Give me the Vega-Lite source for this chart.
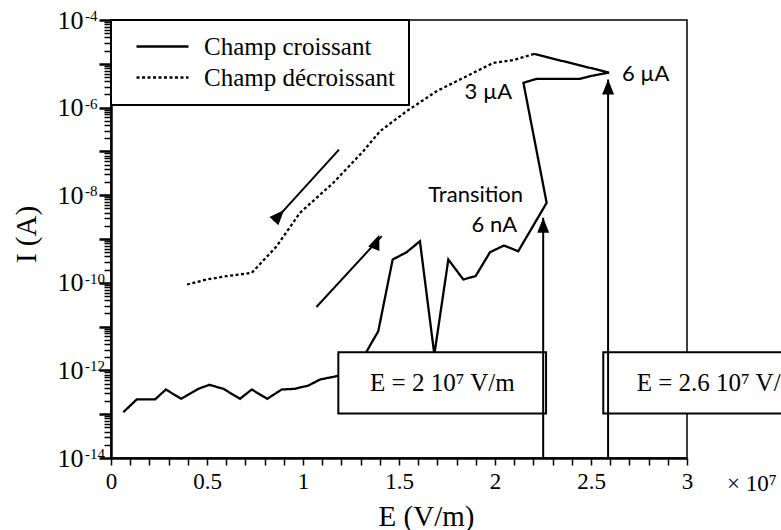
{
  "$schema": "https://vega.github.io/schema/vega-lite/v6.json",
  "width": 576,
  "height": 438,
  "autosize": "none",
  "padding": {"left": 111, "top": 20, "right": 94, "bottom": 72},
  "background": "white",
  "config": {"view": {"stroke": "black", "strokeWidth": 1.5}, "font": "Liberation Serif", "legend": {"strokeWidth": 2}},
  "datasets": {
    "curves": [
      {"i": 1, "serie": "Champ croissant", "E": 0.064, "I": 1.11e-13},
      {"i": 2, "serie": "Champ croissant", "E": 0.134, "I": 2.17e-13},
      {"i": 3, "serie": "Champ croissant", "E": 0.229, "I": 2.17e-13},
      {"i": 4, "serie": "Champ croissant", "E": 0.286, "I": 3.66e-13},
      {"i": 5, "serie": "Champ croissant", "E": 0.365, "I": 2.25e-13},
      {"i": 6, "serie": "Champ croissant", "E": 0.455, "I": 3.8e-13},
      {"i": 7, "serie": "Champ croissant", "E": 0.512, "I": 4.69e-13},
      {"i": 8, "serie": "Champ croissant", "E": 0.585, "I": 3.8e-13},
      {"i": 9, "serie": "Champ croissant", "E": 0.672, "I": 2.25e-13},
      {"i": 10, "serie": "Champ croissant", "E": 0.733, "I": 3.66e-13},
      {"i": 11, "serie": "Champ croissant", "E": 0.814, "I": 2.25e-13},
      {"i": 12, "serie": "Champ croissant", "E": 0.889, "I": 3.66e-13},
      {"i": 13, "serie": "Champ croissant", "E": 0.958, "I": 3.8e-13},
      {"i": 14, "serie": "Champ croissant", "E": 1.028, "I": 4.52e-13},
      {"i": 15, "serie": "Champ croissant", "E": 1.089, "I": 6.2e-13},
      {"i": 16, "serie": "Champ croissant", "E": 1.175, "I": 7.38e-13},
      {"i": 17, "serie": "Champ croissant", "E": 1.271, "I": 9.4e-13},
      {"i": 18, "serie": "Champ croissant", "E": 1.392, "I": 7.85e-12},
      {"i": 19, "serie": "Champ croissant", "E": 1.467, "I": 3.4e-10},
      {"i": 20, "serie": "Champ croissant", "E": 1.54, "I": 5.0e-10},
      {"i": 21, "serie": "Champ croissant", "E": 1.609, "I": 8.9e-10},
      {"i": 22, "serie": "Champ croissant", "E": 1.684, "I": 2.3e-12},
      {"i": 23, "serie": "Champ croissant", "E": 1.757, "I": 3.4e-10},
      {"i": 24, "serie": "Champ croissant", "E": 1.835, "I": 1.19e-10},
      {"i": 25, "serie": "Champ croissant", "E": 1.899, "I": 1.42e-10},
      {"i": 26, "serie": "Champ croissant", "E": 1.974, "I": 5.0e-10},
      {"i": 27, "serie": "Champ croissant", "E": 2.047, "I": 7.1e-10},
      {"i": 28, "serie": "Champ croissant", "E": 2.121, "I": 5.26e-10},
      {"i": 29, "serie": "Champ croissant", "E": 2.269, "I": 6.7e-9},
      {"i": 30, "serie": "Champ croissant", "E": 2.148, "I": 3.68e-6},
      {"i": 31, "serie": "Champ croissant", "E": 2.217, "I": 4.55e-6},
      {"i": 32, "serie": "Champ croissant", "E": 2.443, "I": 4.55e-6},
      {"i": 33, "serie": "Champ croissant", "E": 2.512, "I": 5.4e-6},
      {"i": 34, "serie": "Champ croissant", "E": 2.594, "I": 6.3e-6},
      {"i": 35, "serie": "Champ croissant", "E": 2.203, "I": 1.68e-5},
      {"i": 36, "serie": "Champ décroissant", "E": 2.203, "I": 1.68e-5},
      {"i": 37, "serie": "Champ décroissant", "E": 2.095, "I": 1.21e-5},
      {"i": 38, "serie": "Champ décroissant", "E": 1.991, "I": 1.05e-5},
      {"i": 39, "serie": "Champ décroissant", "E": 1.87, "I": 5.7e-6},
      {"i": 40, "serie": "Champ décroissant", "E": 1.696, "I": 2.37e-6},
      {"i": 41, "serie": "Champ décroissant", "E": 1.54, "I": 8.3e-7},
      {"i": 42, "serie": "Champ décroissant", "E": 1.401, "I": 2.89e-7},
      {"i": 43, "serie": "Champ décroissant", "E": 1.314, "I": 1.01e-7},
      {"i": 44, "serie": "Champ décroissant", "E": 1.158, "I": 1.92e-8},
      {"i": 45, "serie": "Champ décroissant", "E": 0.984, "I": 3.96e-9},
      {"i": 46, "serie": "Champ décroissant", "E": 0.863, "I": 6.85e-10},
      {"i": 47, "serie": "Champ décroissant", "E": 0.733, "I": 1.69e-10},
      {"i": 48, "serie": "Champ décroissant", "E": 0.603, "I": 1.42e-10},
      {"i": 49, "serie": "Champ décroissant", "E": 0.498, "I": 1.19e-10},
      {"i": 50, "serie": "Champ décroissant", "E": 0.394, "I": 9.1e-11}
    ],
    "boxes": [
      {"x0": 1.184, "x1": 2.266, "y0": 2.6e-12, "y1": 1.04e-13, "tx": 1.349, "ty": 3.35e-13, "label": "E = 2 10⁷ V/m"},
      {"x0": 2.564, "x1": 3.65, "y0": 2.6e-12, "y1": 1.04e-13, "tx": 2.738, "ty": 3.35e-13, "label": "E = 2.6 10⁷ V/m"}
    ],
    "arrows": [
      {"x": 1.07, "y": 2.8e-11, "x2": 1.41, "y2": 1.16e-9, "hx": 1.383, "hy": 8.67e-10, "dir": "ne"},
      {"x": 1.1875, "y": 1.1e-7, "x2": 0.849, "y2": 2.55e-9, "hx": 0.875, "hy": 3.42e-9, "dir": "sw"},
      {"x": 2.251, "y": 1e-14, "x2": 2.251, "y2": 3.05e-9, "hx": 2.251, "hy": 2.06e-9, "dir": "up"},
      {"x": 2.589, "y": 1e-14, "x2": 2.589, "y2": 4.38e-6, "hx": 2.589, "hy": 2.95e-6, "dir": "up"}
    ],
    "notesRight": [
      {"x": 2.146, "y": 7.0e-9, "t": "Transition"},
      {"x": 2.115, "y": 1.41e-9, "t": "6 nA"},
      {"x": 2.089, "y": 1.59e-6, "t": "3 µA"}
    ],
    "notesLeft": [
      {"x": 2.661, "y": 4.0e-6, "t": "6 µA"}
    ],
    "exps": [
      {"v": 1e-4, "e": "-4"},
      {"v": 1e-6, "e": "-6"},
      {"v": 1e-8, "e": "-8"},
      {"v": 1e-10, "e": "-10"},
      {"v": 1e-12, "e": "-12"},
      {"v": 1e-14, "e": "-14"}
    ],
    "mult": [
      {"x": 3.208, "y": 1.72e-15, "t": "× 10⁷"}
    ]
  },
  "layer": [
    {
      "data": {"name": "curves"},
      "mark": {"type": "line", "strokeWidth": 2.3, "color": "black"},
      "encoding": {
        "x": {
          "field": "E", "type": "quantitative",
          "scale": {"domain": [0, 3], "nice": false, "zero": false},
          "axis": {
            "values": [0,0.1,0.2,0.3,0.4,0.5,0.6,0.7,0.8,0.9,1,1.1,1.2,1.3,1.4,1.5,1.6,1.7,1.8,1.9,2,2.1,2.2,2.3,2.4,2.5,2.6,2.7,2.8,2.9,3],
            "tickCount": 1000,
            "format": "~g",
            "labelExpr": "abs(datum.value*2 - round(datum.value*2)) < 0.001 ? datum.label : ''",
            "labelFont": "Liberation Serif", "labelFontSize": 23, "labelColor": "black",
            "labelPadding": 5, "labelOverlap": false, "labelFlush": false,
            "tickSize": 7, "tickWidth": 1.5, "tickColor": "black",
            "domainWidth": 2.5, "domainColor": "black", "grid": false,
            "title": "E (V/m)", "titleFont": "Liberation Serif", "titleFontSize": 29, "titleFontWeight": "normal",
            "titleColor": "black", "titleX": 315, "titleY": 67, "titleBaseline": "alphabetic", "titleAlign": "center"
          }
        },
        "y": {
          "field": "I", "type": "quantitative",
          "scale": {"type": "log", "domain": [1e-14, 1e-4], "nice": false},
          "axis": {
            "values": [1e-14,2e-14,3e-14,4e-14,5e-14,6e-14,7e-14,8e-14,9e-14,
                       1e-13,2e-13,3e-13,4e-13,5e-13,6e-13,7e-13,8e-13,9e-13,
                       1e-12,2e-12,3e-12,4e-12,5e-12,6e-12,7e-12,8e-12,9e-12,
                       1e-11,2e-11,3e-11,4e-11,5e-11,6e-11,7e-11,8e-11,9e-11,
                       1e-10,2e-10,3e-10,4e-10,5e-10,6e-10,7e-10,8e-10,9e-10,
                       1e-9,2e-9,3e-9,4e-9,5e-9,6e-9,7e-9,8e-9,9e-9,
                       1e-8,2e-8,3e-8,4e-8,5e-8,6e-8,7e-8,8e-8,9e-8,
                       1e-7,2e-7,3e-7,4e-7,5e-7,6e-7,7e-7,8e-7,9e-7,
                       1e-6,2e-6,3e-6,4e-6,5e-6,6e-6,7e-6,8e-6,9e-6,
                       1e-5,2e-5,3e-5,4e-5,5e-5,6e-5,7e-5,8e-5,9e-5,1e-4],
            "tickCount": 1000,
            "labelExpr": "abs(log(datum.value)/LN10 - round(log(datum.value)/LN10)) < 0.001 && round(log(datum.value)/LN10) % 2 == 0 ? '10' : ''",
            "labelFont": "Liberation Serif", "labelFontSize": 26, "labelColor": "black",
            "labelPadding": 16, "labelOverlap": false, "labelFlush": false, "labelBound": false,
            "tickSize": {"condition": {"test": "abs(log(datum.value)/LN10 - round(log(datum.value)/LN10)) < 0.001", "value": 12}, "value": 7},
            "tickWidth": {"condition": {"test": "abs(log(datum.value)/LN10 - round(log(datum.value)/LN10)) < 0.001", "value": 2.5}, "value": 1.5},
            "tickColor": "black",
            "domainWidth": 2.5, "domainColor": "black", "grid": false,
            "title": "I (A)", "titleFont": "Liberation Serif", "titleFontSize": 29, "titleFontWeight": "normal",
            "titleColor": "black", "titleAngle": -90, "titleX": -76, "titleY": 214, "titleBaseline": "alphabetic", "titleAlign": "center"
          }
        },
        "order": {"field": "i", "type": "quantitative"},
        "strokeDash": {
          "field": "serie", "type": "nominal",
          "scale": {"domain": ["Champ croissant", "Champ décroissant"], "range": [[1, 0], [3, 2.5]]},
          "legend": {
            "orient": "none", "legendX": 0, "legendY": 0, "title": null,
            "symbolType": "M-2.6,0H2.6", "symbolSize": 400, "symbolOffset": 25,
            "symbolStrokeWidth": 2.3, "symbolStrokeColor": "black",
            "labelFont": "Liberation Serif", "labelFontSize": 25, "labelColor": "black", "labelLimit": 400,
            "labelOffset": 29, "padding": 14, "rowPadding": 5,
            "strokeColor": "black", "fillColor": "white"
          }
        }
      }
    },
    {
      "data": {"name": "boxes"},
      "mark": {"type": "rect", "fill": "white", "stroke": "black", "strokeWidth": 2},
      "encoding": {
        "x": {"field": "x0", "type": "quantitative"},
        "x2": {"field": "x1"},
        "y": {"field": "y0", "type": "quantitative"},
        "y2": {"field": "y1"}
      }
    },
    {
      "data": {"name": "boxes"},
      "mark": {"type": "text", "font": "Liberation Serif", "fontSize": 25, "align": "left", "baseline": "alphabetic", "color": "black"},
      "encoding": {
        "x": {"field": "tx", "type": "quantitative"},
        "y": {"field": "ty", "type": "quantitative"},
        "text": {"field": "label"}
      }
    },
    {
      "data": {"name": "arrows"},
      "mark": {"type": "rule", "strokeWidth": 2, "color": "black"},
      "encoding": {
        "x": {"field": "x", "type": "quantitative"},
        "y": {"field": "y", "type": "quantitative"},
        "x2": {"field": "x2"},
        "y2": {"field": "y2"}
      }
    },
    {
      "data": {"name": "arrows"},
      "mark": {"type": "point", "shape": "M0,-1L0.8,1L-0.8,1Z", "size": 225, "filled": true, "color": "black", "opacity": 1, "strokeWidth": 0},
      "encoding": {
        "x": {"field": "hx", "type": "quantitative"},
        "y": {"field": "hy", "type": "quantitative"},
        "angle": {"field": "dir", "type": "nominal", "scale": {"domain": ["up", "ne", "sw"], "range": [0, 42.6, 222.2]}, "legend": null}
      }
    },
    {
      "data": {"name": "notesRight"},
      "mark": {"type": "text", "font": "Lato", "fontSize": 22, "align": "right", "baseline": "alphabetic", "color": "black"},
      "encoding": {
        "x": {"field": "x", "type": "quantitative"},
        "y": {"field": "y", "type": "quantitative"},
        "text": {"field": "t"}
      }
    },
    {
      "data": {"name": "notesLeft"},
      "mark": {"type": "text", "font": "Lato", "fontSize": 22, "align": "left", "baseline": "alphabetic", "color": "black"},
      "encoding": {
        "x": {"field": "x", "type": "quantitative"},
        "y": {"field": "y", "type": "quantitative"},
        "text": {"field": "t"}
      }
    },
    {
      "data": {"name": "exps"},
      "mark": {"type": "text", "font": "Liberation Serif", "fontSize": 15, "align": "left", "baseline": "alphabetic", "dx": -26, "dy": 1, "color": "black"},
      "encoding": {
        "x": {"datum": 0, "type": "quantitative"},
        "y": {"field": "v", "type": "quantitative"},
        "text": {"field": "e"}
      }
    },
    {
      "data": {"name": "mult"},
      "mark": {"type": "text", "font": "Liberation Serif", "fontSize": 23, "align": "left", "baseline": "alphabetic", "color": "black"},
      "encoding": {
        "x": {"field": "x", "type": "quantitative"},
        "y": {"field": "y", "type": "quantitative"},
        "text": {"field": "t"}
      }
    }
  ]
}
